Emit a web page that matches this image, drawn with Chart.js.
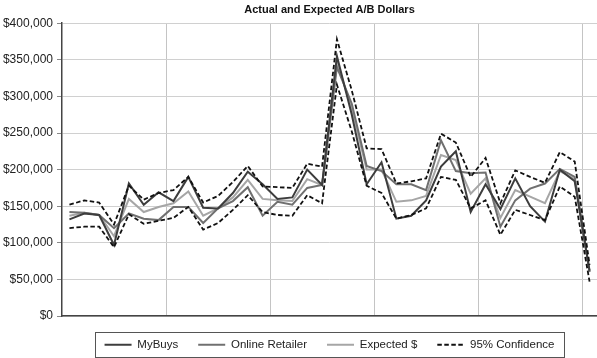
<!DOCTYPE html>
<html><head><meta charset="utf-8">
<script src="https://cdn.jsdelivr.net/npm/chart.js@4.4.1/dist/chart.umd.min.js"></script>
<style>html,body{margin:0;padding:0;background:#fff}canvas{display:block}</style>
</head><body>
<canvas id="c" width="597" height="358"></canvas>
<script>
const categories = ['1','2','3','4','5','6','7','8','9','10','11','12','13','14','15','16','17','18',
  '19','20','21','22','23','24','25','26','27','28','29','30','31','32','33','34','35','36'];
const myBuys = [132000,140000,138000,97000,181000,152000,169000,157000,190000,148000,147000,168000,
  197000,180000,160000,162000,200000,179000,355000,275000,180000,210000,133000,137000,
  158000,204000,225000,142000,180000,146000,188000,150000,129000,200000,184000,62000];
const onlineRetailer = [142000,141000,138000,120000,140000,133000,131000,149000,149000,127000,147000,157000,
  176000,137000,156000,152000,175000,179000,340000,290000,205000,198000,180000,180000,
  172000,240000,198000,195000,196000,122000,158000,174000,181000,201000,190000,60000];
const expectedDollars = [137000,141000,138000,109000,160000,142000,149000,154000,170000,137000,147000,162000,
  186000,160000,158000,157000,187000,179000,347000,283000,200000,200000,156000,158000,
  164000,220000,213000,167000,188000,134000,172000,163000,154000,198000,187000,61000];
const confUpper = [152000,158000,155000,125000,178000,159000,168000,172000,190000,155000,164000,183000,
  205000,177000,176000,175000,208000,204000,378000,308000,229000,228000,181000,184000,
  188000,249000,237000,190000,216000,154000,199000,190000,182000,224000,211000,70000];
const confLower = [120000,122000,122000,94000,139000,126000,130000,134000,149000,118000,127000,145000,
  165000,142000,138000,137000,165000,154000,316000,252000,178000,168000,133000,138000,
  147000,190000,186000,147000,158000,111000,145000,138000,131000,177000,163000,47000];
const yTickValues = [0,50000,100000,150000,200000,250000,300000,350000,400000];
const seriesLabels = ['MyBuys','Online Retailer','Expected $','95% Confidence','95% Confidence (lower)'];
const titleText = 'Actual and Expected A/B Dollars';

const FONT = "'Liberation Sans', Arial, Helvetica, sans-serif";

const legendFrame = {
  id: 'legendFrame',
  afterDraw(chart) {
    const hb = chart.legend && chart.legend.legendHitBoxes;
    if (!hb || !hb.length) return;
    const first = hb[0], last = hb[hb.length - 1];
    const mid = first.top + first.height / 2;
    const ctx = chart.ctx;
    ctx.save();
    ctx.strokeStyle = '#555';
    ctx.lineWidth = 1;
    const x0 = Math.round(first.left - 10) + 0.5;
    const x1 = Math.round(last.left + last.width + 10) + 0.5;
    const y0 = Math.round(mid - 13) + 0.5;
    ctx.strokeRect(x0, y0, x1 - x0, 25);
    ctx.restore();
  }
};

const lineDs = (label, data, color, width, dash, order) => ({
  label, data, borderColor: color, backgroundColor: color, borderWidth: width,
  borderDash: dash, pointRadius: 0, pointHoverRadius: 0, tension: 0, fill: false, order
});

new Chart(document.getElementById('c'), {
  type: 'line',
  data: {
    labels: categories,
    datasets: [
      lineDs(seriesLabels[0], myBuys, '#3d3d3d', 2, [], 2),
      lineDs(seriesLabels[1], onlineRetailer, '#707070', 2, [], 3),
      lineDs(seriesLabels[2], expectedDollars, '#a6a6a6', 2, [], 4),
      lineDs(seriesLabels[3], confUpper, '#111111', 1.8, [4.5, 2.5], 0),
      lineDs(seriesLabels[4], confLower, '#111111', 1.8, [4.5, 2.5], 1)
    ]
  },
  options: {
    responsive: false,
    animation: false,
    devicePixelRatio: 1,
    layout: { padding: 0 },
    plugins: {
      tooltip: { enabled: false },
      title: {
        display: true, text: titleText, fullSize: false, color: '#111',
        font: { family: FONT, size: 11, weight: 'bold' },
        padding: { top: 3, bottom: 7 }
      },
      legend: {
        position: 'bottom', fullSize: false, maxHeight: 39,
        labels: {
          usePointStyle: true, pointStyle: 'line', pointStyleWidth: 27,
          padding: 20, color: '#222', font: { family: FONT, size: 11.5 },
          generateLabels: chart => Chart.defaults.plugins.legend.labels.generateLabels(chart).map(l => ({
            ...l,
            lineDash: chart.data.datasets[l.datasetIndex].borderDash,
            strokeStyle: chart.data.datasets[l.datasetIndex].borderColor,
            lineWidth: chart.data.datasets[l.datasetIndex].borderWidth
          })),
          filter: item => item.datasetIndex !== 4,
          sort: (a, b) => a.datasetIndex - b.datasetIndex
        }
      }
    },
    scales: {
      x: {
        type: 'category', offset: true,
        grid: {
          offset: true, drawTicks: false, lineWidth: 1,
          color: ctx => (ctx.index > 0 && ctx.index < 36 && ctx.index % 7 === 0) ? '#c4c4c4' : 'rgba(0,0,0,0)'
        },
        border: { display: true, color: '#444', width: 1.5 },
        ticks: { display: false },
        afterFit: s => { s.height = 3; }
      },
      y: {
        min: 0, max: 400000,
        afterBuildTicks: s => { s.ticks = yTickValues.map(v => ({ value: v })); },
        grid: { color: '#d0d0d0', tickColor: '#888', tickLength: 5, lineWidth: 1 },
        border: { display: true, color: '#444', width: 1.5 },
        ticks: {
          padding: 4, color: '#222', font: { family: FONT, size: 12 },
          callback: v => '$' + Number(v).toLocaleString('en-US')
        },
        afterFit: s => { s.width = 62; }
      }
    }
  },
  plugins: [legendFrame]
});
</script>
</body></html>
